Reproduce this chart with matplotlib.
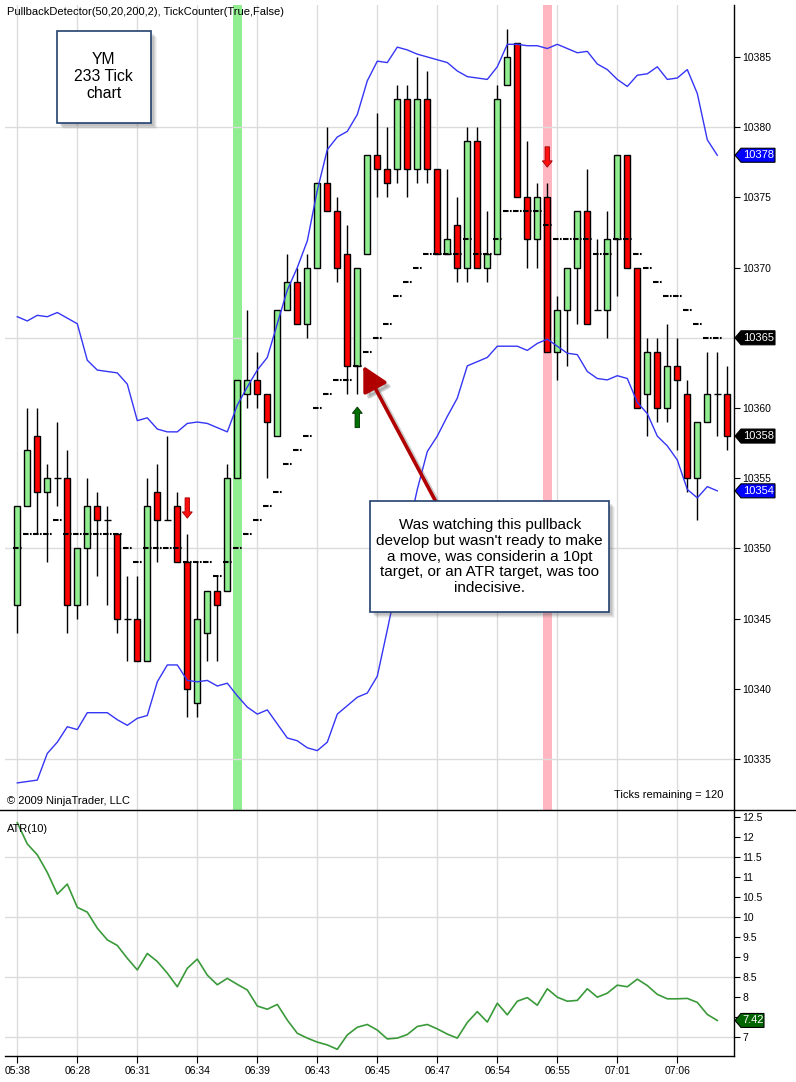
import matplotlib
matplotlib.use("Agg")
import matplotlib.pyplot as plt
import numpy as np
from matplotlib.patches import Rectangle, Polygon, FancyArrowPatch
from matplotlib.transforms import IdentityTransform, ScaledTranslation

plt.rcParams['font.family'] = ['Liberation Sans', 'DejaVu Sans']
plt.rcParams['lines.scale_dashes'] = False

# ---------------- data ----------------
opens = [10346, 10353, 10358, 10354, 10355, 10355, 10346, 10350, 10353, 10352,
         10351, 10345, 10345, 10342, 10354, 10352, 10353, 10349, 10339, 10344,
         10347, 10347, 10355, 10361, 10362, 10361, 10358, 10367, 10369, 10366,
         10370, 10376, 10374, 10371, 10363, 10371, 10378, 10377, 10377, 10382,
         10377, 10382, 10377, 10371, 10373, 10370, 10379, 10370, 10371, 10383,
         10386, 10375, 10372, 10375, 10364, 10367, 10370, 10374, 10367, 10367,
         10372, 10378, 10370, 10361, 10364, 10360, 10363, 10361, 10355, 10359,
         10361, 10361]
highs = [10353, 10360, 10360, 10356, 10359, 10357, 10350, 10355, 10354, 10353,
         10351, 10348, 10348, 10355, 10356, 10358, 10354, 10351, 10349, 10347,
         10348, 10356, 10362, 10367, 10364, 10361, 10367, 10371, 10370, 10371,
         10376, 10380, 10375, 10373, 10370, 10378, 10381, 10380, 10383, 10383,
         10385, 10384, 10377, 10377, 10375, 10380, 10380, 10374, 10383, 10387,
         10386, 10379, 10376, 10376, 10368, 10370, 10374, 10377, 10372, 10374,
         10378, 10378, 10370, 10365, 10365, 10366, 10365, 10362, 10359, 10364,
         10364, 10363]
lows = [10344, 10353, 10351, 10349, 10353, 10344, 10345, 10346, 10348, 10346,
        10344, 10342, 10342, 10342, 10349, 10352, 10349, 10338, 10338, 10342,
        10342, 10347, 10355, 10360, 10360, 10355, 10358, 10367, 10366, 10365,
        10370, 10374, 10369, 10361, 10361, 10371, 10375, 10375, 10376, 10375,
        10376, 10376, 10371, 10371, 10369, 10369, 10370, 10369, 10371, 10383,
        10375, 10370, 10370, 10364, 10362, 10363, 10366, 10366, 10367, 10365,
        10368, 10370, 10360, 10358, 10359, 10359, 10357, 10354, 10352, 10359,
        10358, 10357]
closes = [10353, 10357, 10354, 10355, 10355, 10346, 10350, 10353, 10352, 10352,
          10345, 10345, 10342, 10353, 10352, 10352, 10349, 10340, 10345, 10347,
          10346, 10355, 10362, 10362, 10361, 10359, 10367, 10369, 10366, 10370,
          10376, 10374, 10370, 10363, 10370, 10378, 10377, 10376, 10382, 10377,
          10382, 10377, 10371, 10372, 10370, 10379, 10370, 10371, 10382, 10385,
          10375, 10372, 10375, 10364, 10367, 10370, 10374, 10366, 10367, 10372,
          10378, 10370, 10360, 10364, 10360, 10363, 10362, 10355, 10359, 10361,
          10361, 10358]

upper_band = [10366.5, 10366.2, 10366.6, 10366.5, 10366.8, 10366.4, 10366.0, 10363.4, 10362.7, 10362.6,
              10362.5, 10361.7, 10359.1, 10359.3, 10358.5, 10358.3, 10358.3, 10358.9, 10359.0, 10358.9,
              10358.6, 10358.3, 10360.2, 10361.5, 10362.7, 10363.6, 10366.0, 10368.4, 10370.0, 10371.9,
              10375.5, 10378.4, 10379.3, 10379.7, 10380.9, 10383.3, 10384.7, 10384.6, 10385.7, 10385.5,
              10385.2, 10385.0, 10384.8, 10384.6, 10384.0, 10383.6, 10383.5, 10383.4, 10384.3, 10385.9,
              10385.9, 10385.8, 10385.8, 10385.6, 10385.9, 10385.6, 10385.3, 10385.4, 10384.5, 10384.1,
              10383.4, 10382.9, 10383.7, 10383.8, 10384.3, 10383.4, 10383.5, 10384.1, 10382.4, 10379.1,
              10378.0]
lower_band = [10333.3, 10333.4, 10333.5, 10335.4, 10336.2, 10337.3, 10337.1, 10338.3, 10338.3, 10338.3,
              10337.8, 10337.4, 10337.9, 10338.1, 10340.5, 10341.7, 10341.7, 10340.6, 10340.5, 10340.6,
              10340.2, 10340.4, 10339.5, 10338.7, 10338.2, 10338.5, 10337.5, 10336.5, 10336.3, 10335.8,
              10335.6, 10336.2, 10338.2, 10338.8, 10339.4, 10339.7, 10340.9, 10344.2, 10347.6, 10351.0,
              10354.2, 10356.9, 10358.0, 10359.4, 10360.7, 10363.0, 10363.3, 10363.6, 10364.4, 10364.4,
              10364.4, 10364.1, 10364.6, 10364.9, 10364.4, 10363.9, 10363.8, 10362.6, 10362.1, 10362.0,
              10362.3, 10362.1, 10360.4, 10359.6, 10358.0, 10357.3, 10356.3, 10354.2, 10353.6, 10354.4,
              10354.1]
pullback = [10350, 10351, 10351, 10351, 10352, 10351, 10351, 10351, 10351, 10351,
            10351, 10350, 10349, 10350, 10350, 10350, 10350, 10349, 10349, 10349,
            10348, 10349, 10350, 10351, 10352, 10353, 10354, 10356, 10357, 10358,
            10360, 10361, 10362, 10362, 10363, 10364, 10365, 10366, 10368, 10369,
            10370, 10371, 10371, 10371, 10371, 10372, 10371, 10371, 10372, 10374,
            10374, 10374, 10374, 10373, 10372, 10372, 10372, 10372, 10371, 10371,
            10372, 10372, 10371, 10370, 10369, 10368, 10368, 10367, 10366, 10365,
            10365]
atr = [12.35, 11.82, 11.55, 11.11, 10.57, 10.82, 10.24, 10.12, 9.72, 9.43,
       9.29, 8.97, 8.68, 9.09, 8.89, 8.60, 8.26, 8.72, 8.95, 8.55,
       8.31, 8.47, 8.32, 8.18, 7.78, 7.70, 7.82, 7.43, 7.10, 6.98,
       6.88, 6.81, 6.70, 7.06, 7.25, 7.32, 7.18, 6.96, 6.98, 7.07,
       7.27, 7.32, 7.21, 7.08, 6.98, 7.37, 7.64, 7.38, 7.85, 7.56,
       7.90, 7.99, 7.80, 8.21, 8.00, 7.90, 7.92, 8.21, 8.00, 8.10,
       8.30, 8.26, 8.45, 8.29, 8.07, 7.96, 7.96, 7.97, 7.87, 7.57,
       7.42]

time_ticks = [0, 6, 12, 18, 24, 30, 36, 42, 48, 54, 60, 66]
time_labels = ['05:38', '06:28', '06:31', '06:34', '06:39', '06:43',
               '06:45', '06:47', '06:54', '06:55', '07:01', '07:06']
price_ticks = [10335, 10340, 10345, 10350, 10355, 10360, 10365, 10370, 10375, 10380, 10385]
price_grid = [10335, 10350, 10365, 10380]
atr_ticks = [7, 7.5, 8, 8.5, 9, 9.5, 10, 10.5, 11, 11.5, 12, 12.5]
atr_grid = [7, 8.5, 10, 11.5]
long_bars = [22]
short_bars = [53]
signal_bars = [17, 34, 53]
signal_dirs = [-1, 1, -1]

# ---------------- figure ----------------
W, H, DPI = 796, 1082, 100
fig = plt.figure(figsize=(W / DPI, H / DPI), dpi=DPI, facecolor='white')


def fx(px):
    return px / W


def fy(py):
    return 1 - py / H


ax = fig.add_axes([fx(5), fy(810), fx(734) - fx(5), fy(5) - fy(810)])
ax2 = fig.add_axes([fx(5), fy(1056), fx(734) - fx(5), fy(810) - fy(1056)])

XMIN, XMAX = -1.23, 71.67
ax.set_xlim(XMIN, XMAX)
ax.set_ylim(10331.37, 10388.70)
ax2.set_xlim(XMIN, XMAX)
ax2.set_ylim(6.534, 12.667)

GRID = '#DCDCDC'
for a in (ax, ax2):
    for s in ['top', 'left', 'bottom']:
        a.spines[s].set_visible(False)
    a.spines['right'].set_linewidth(1.0)
    for t in time_ticks:
        a.axvline(t, color=GRID, lw=1.0, zorder=0.5)
ax2.spines['bottom'].set_visible(True)
ax2.spines['bottom'].set_linewidth(1.0)

for g in price_grid:
    ax.axhline(g, color=GRID, lw=1.0, zorder=0.5)
for g in atr_grid:
    ax2.axhline(g, color=GRID, lw=1.0, zorder=0.5)

for b in long_bars:
    ax.axvspan(b - 0.47, b + 0.47, color='#90EE90', lw=0, zorder=0.3)
for b in short_bars:
    ax.axvspan(b - 0.47, b + 0.47, color='#FFB6C1', lw=0, zorder=0.3)

# candles
n = len(opens)
for i in range(n):
    o, h, l, c = opens[i], highs[i], lows[i], closes[i]
    ax.vlines(i, l, h, color='black', lw=1.0, zorder=2)
    if c == o:
        ax.hlines(o, i - 0.33, i + 0.33, color='black', lw=1.0, zorder=3)
    else:
        col = '#90EE90' if c > o else '#FF0000'
        ax.add_patch(Rectangle((i - 0.31, min(o, c)), 0.62, abs(c - o),
                               facecolor=col, edgecolor='black', lw=1.0, zorder=3))

xi = np.arange(len(upper_band))
ax.plot(xi, upper_band, color='#3535F5', lw=1.0, zorder=4)
ax.plot(xi, lower_band, color='#3535F5', lw=1.0, zorder=4)

xp = np.arange(len(pullback))
ax.hlines(pullback, xp - 0.42, xp + 0.45, colors='black', lw=1.5,
          linestyles=[(0, (4.0, 1.0, 1.2, 1.0))], zorder=4)

# signal arrows
for b, d in zip(signal_bars, signal_dirs):
    if d < 0:
        ax.arrow(b, highs[b] + 2.6, 0, -1.45, width=0.45, head_width=1.0, head_length=0.45,
                 length_includes_head=True, fc='#FF1010', ec='#A00000', lw=0.6, zorder=5)
    else:
        ax.arrow(b, lows[b] - 2.4, 0, 1.47, width=0.45, head_width=1.0, head_length=0.45,
                 length_includes_head=True, fc='#007000', ec='#003000', lw=0.6, zorder=5)

# tick labels hidden behind the value tags are left blank, as in the original
covered_price = [10365]
covered_atr = [7.5]

ax.set_yticks(price_ticks)
ax.set_yticklabels(['' if v in covered_price else str(v) for v in price_ticks])
ax.tick_params(axis='y', direction='out', length=4.5, width=0.8, pad=1.5, labelsize=7.5,
               right=True, left=False, labelright=True, labelleft=False)
ax.tick_params(axis='x', bottom=False, labelbottom=False)

xa = np.arange(len(atr))
ax2.plot(xa, atr, color='#3A9A3A', lw=1.2, zorder=4)
ax2.set_yticks(atr_ticks)
ax2.set_yticklabels(['' if v in covered_atr else '%g' % v for v in atr_ticks])
ax2.tick_params(axis='y', direction='out', length=4.5, width=0.8, pad=1.5, labelsize=7.5,
                right=True, left=False, labelright=True, labelleft=False)
ax2.set_xticks(time_ticks)
ax2.set_xticklabels(time_labels)
ax2.tick_params(axis='x', direction='out', length=5, width=0.8, pad=2.5, labelsize=7.5)

# separator line between panels
fig.add_artist(plt.Line2D([0, 1], [fy(810), fy(810)], transform=fig.transFigure,
                          color='black', lw=1.0))

# texts
fig.text(fx(7), fy(12), 'PullbackDetector(50,20,200,2), TickCounter(True,False)',
         ha='left', va='center', fontsize=8)
fig.text(fx(7), fy(801), '\u00a9 2009 NinjaTrader, LLC', ha='left', va='center', fontsize=8)
fig.text(fx(723), fy(795), 'Ticks remaining = 120', ha='right', va='center', fontsize=8)
fig.text(fx(7), fy(829), 'ATR(10)', ha='left', va='center', fontsize=8)


def shadow_box(x0, y0, x1, y1):
    for k, al in [(6, 0.06), (5, 0.08), (4, 0.10), (3, 0.12)]:
        fig.add_artist(Rectangle((fx(x0 + k), fy(y1 + k)), fx(x1 - x0), (y1 - y0) / H,
                                 transform=fig.transFigure, facecolor='#404040',
                                 edgecolor='none', alpha=al, zorder=8))
    fig.add_artist(Rectangle((fx(x0), fy(y1)), fx(x1 - x0), (y1 - y0) / H,
                             transform=fig.transFigure, facecolor='white',
                             edgecolor='#22416E', lw=1.2, zorder=9))


# YM box
shadow_box(56.7, 30.7, 150.7, 123.3)
fig.text(fx(103.7), fy(76.5), 'YM\n233 Tick\nchart', ha='center', va='center',
         fontsize=11.3, linespacing=1.15, zorder=10)

# annotation arrow (with shadow)
tail = (41.8, 10353.4)
tip = (34.6, 10363.0)
sh = ax.transData + ScaledTranslation(4 / DPI, -4 / DPI, fig.dpi_scale_trans)
ax.add_patch(FancyArrowPatch(tail, tip, transform=sh,
                             arrowstyle='-|>,head_length=0.75,head_width=0.4',
                             mutation_scale=20, lw=2.6, color='#707070', alpha=0.35,
                             shrinkA=0, shrinkB=0, zorder=6, clip_on=False))
ax.add_patch(FancyArrowPatch(tail, tip,
                             arrowstyle='-|>,head_length=0.75,head_width=0.4',
                             mutation_scale=20, lw=2.6, color='#B00000',
                             shrinkA=0, shrinkB=0, zorder=7, clip_on=False))

# annotation box
shadow_box(370.3, 500.7, 609.3, 612.3)
fig.text(fx(489.8), fy(556.5),
         "Was watching this pullback\ndevelop but wasn't ready to make\na move, was considerin a 10pt\n"
         "target, or an ATR target, was too\nindecisive.",
         ha='center', va='center', fontsize=11, linespacing=1.18, zorder=10)


# price tags on the right axis
def tag(a, val, text, color, width=41):
    xr = a.transAxes.transform((1, 0))[0]
    yd = a.transData.transform((0, val))[1]
    hh = 7
    pts = [(xr + 1, yd), (xr + 7, yd + hh), (xr + width, yd + hh),
           (xr + width, yd - hh), (xr + 7, yd - hh)]
    fig.add_artist(Polygon(pts, closed=True, transform=IdentityTransform(),
                           facecolor=color, edgecolor='black', lw=0.8, zorder=10))
    fig.text((xr + 7 + (width - 7) / 2 + 0.5) / W, yd / H, text, color='white',
             ha='center', va='center', fontsize=8, zorder=11)


tag(ax, upper_band[-1], '%d' % round(upper_band[-1]), '#0000FF')
tag(ax, pullback[-1], '%d' % pullback[-1], 'black')
tag(ax, closes[-1], '%d' % closes[-1], 'black')
tag(ax, lower_band[-1], '%d' % round(lower_band[-1]), '#0000FF')
tag(ax2, atr[-1], '%.2f' % atr[-1], '#006400', width=30)

fig.savefig('out.png', dpi=DPI, facecolor='white')
